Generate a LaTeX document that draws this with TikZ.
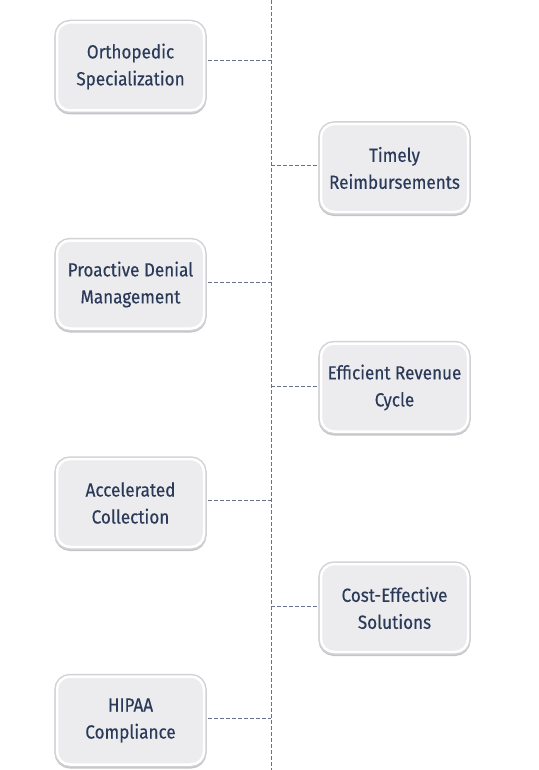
\documentclass[tikz,border=0pt]{standalone}
\usepackage{fontspec}
\setmainfont[FakeStretch=0.9, FakeBold=0.35]{Fira Sans}
\usepackage{tikz}
\def\boxwidth{147}
\def\boxheight{88}
\definecolor{boxfill}{HTML}{ECECEF}
\definecolor{boxrim}{HTML}{D2D2D6}
\definecolor{boxshade}{HTML}{C4C4C8}
\definecolor{textnavy}{HTML}{2B3A58}
\definecolor{linegray}{HTML}{68728C}
\tikzset{
  featbox/.style={rounded corners=13pt, fill=boxfill, draw=white, line width=2.5pt,
    preaction={draw=boxshade, line width=5pt, transform canvas={yshift=-1.5pt}},
    preaction={draw=boxrim, line width=5.5pt},
    minimum width=\boxwidth pt, minimum height=\boxheight pt,
    align=center, text=textnavy, font=\fontsize{19}{27}\selectfont},
  link/.style={dashed, dash pattern=on 4pt off 2pt, color=linegray, line width=0.8pt}
}
\begin{document}
\begin{tikzpicture}[x = 1pt, y = -1pt]
            \useasboundingbox (0,0) rectangle (538,770);
            
            % spine
            \coordinate (top) at (271,0);
            \coordinate (bottom) at (271,770);
            \draw [link] (top) -- (bottom);
            
            % left column
            \node[featbox] (ortho) at (130.5,66.5) {Orthopedic\\Specialization};
            \node[featbox] (denial) at (130.5,284.5) {Proactive Denial\\Management};
            \node[featbox] (collect) at (130.5,503) {Accelerated\\Collection};
            \node[featbox] (hipaa) at (130.5,720.5) {HIPAA\\Compliance};
            
            % right column
            \node[featbox] (reimb) at (394.5,168) {Timely\\Reimbursements};
            \node[featbox] (cycle) at (394.5,387.5) {Efficient Revenue\\Cycle};
            \node[featbox] (cost) at (394.5,608) {Cost-Effective\\Solutions};
            
            % ties to the spine
            \coordinate (s1) at (271,60);
            \coordinate (s2) at (271,165);
            \coordinate (s3) at (271,282);
            \coordinate (s4) at (271,386);
            \coordinate (s5) at (271,500);
            \coordinate (s6) at (271,606);
            \coordinate (s7) at (271,718);
            
            \draw [link] (ortho.east |- s1) ++(3,0) -- (s1);
            \draw [link] (denial.east |- s3) ++(3,0) -- (s3);
            \draw [link] (collect.east |- s5) ++(3,0) -- (s5);
            \draw [link] (hipaa.east |- s7) ++(3,0) -- (s7);
            \draw [link] (s2) -- ([xshift=-3pt]reimb.west |- s2);
            \draw [link] (s4) -- ([xshift=-3pt]cycle.west |- s4);
            \draw [link] (s6) -- ([xshift=-3pt]cost.west |- s6);
            
\end{tikzpicture}
\end{document}
